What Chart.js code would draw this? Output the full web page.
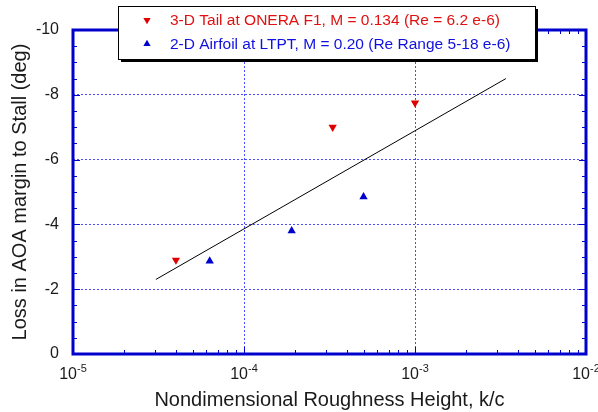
<!DOCTYPE html>
<html>
<head>
<meta charset="utf-8">
<script src="https://cdn.jsdelivr.net/npm/chart.js@4"></script>
<style>
  html, body { margin: 0; padding: 0; background: #fff; }
</style>
</head>
<body>
<canvas id="chart" width="598" height="412"></canvas>
<script>
// k/c vs loss in AOA margin
const tailK = [4.0e-5, 3.3e-4, 1.0e-3];
const tailLoss = [-2.9, -7.0, -7.75];
const airfoilK = [6.3e-5, 1.9e-4, 5.0e-4];
const airfoilLoss = [-2.87, -3.8, -4.85];
const fitK = [3.05e-5, 3.4e-3];
const fitLoss = [-2.3, -8.5];
const xExponents = [-5, -4, -3, -2];

const BLUE = '#0000cc';
const GRID = '#4a4aff';
const RED = '#e00000';
const FONT = "'Liberation Sans', Arial, sans-serif";

const pts = (xs, ys) => xs.map((v, i) => ({ x: v, y: ys[i] }));

const framePlugin = {
    id: 'frame',
    afterDraw(chart) {
        const { ctx, chartArea: a, scales: { x, y } } = chart;
        ctx.save();

        // minor / major ticks on all four sides
        ctx.strokeStyle = BLUE;
        ctx.lineWidth = 1;
        ctx.beginPath();
        for (let e = -5; e < -2; e++) {
            for (let m = 1; m < 10; m++) {
                const px = Math.round(x.getPixelForValue(m * Math.pow(10, e))) + 0.5;
                const len = m === 1 ? 7 : 4;
                ctx.moveTo(px, a.bottom); ctx.lineTo(px, a.bottom - len);
                ctx.moveTo(px, a.top); ctx.lineTo(px, a.top + len);
            }
        }
        for (let v = -10; v <= 0; v += 0.5) {
            const py = Math.round(y.getPixelForValue(v)) + 0.5;
            const len = v % 2 === 0 ? 7 : 4;
            ctx.moveTo(a.left, py); ctx.lineTo(a.left + len, py);
            ctx.moveTo(a.right, py); ctx.lineTo(a.right - len, py);
        }
        ctx.stroke();

        // thick plot frame
        ctx.lineWidth = 3;
        ctx.strokeRect(a.left, a.top, a.right - a.left, a.bottom - a.top);

        // x tick labels as 10^n
        ctx.fillStyle = '#1a1a1a';
        ctx.textBaseline = 'alphabetic';
        ctx.textAlign = 'left';
        xExponents.forEach(e => {
            const px = x.getPixelForValue(Math.pow(10, e));
            ctx.font = '16px ' + FONT;
            const wBase = ctx.measureText('10').width;
            ctx.font = '11px ' + FONT;
            const wExp = ctx.measureText(String(e)).width;
            const x0 = px - (wBase + wExp) / 2;
            ctx.font = '16px ' + FONT;
            ctx.fillText('10', x0, 379);
            ctx.font = '11px ' + FONT;
            ctx.fillText(String(e), x0 + wBase, 372);
        });

        // legend box with drop shadow
        const bx = 118, by = 6, bw = 417, bh = 53;
        ctx.fillStyle = '#000';
        ctx.fillRect(bx + 3, by + 3, bw, bh);
        ctx.fillStyle = '#fff';
        ctx.fillRect(bx, by, bw, bh);
        ctx.lineWidth = 1;
        ctx.strokeStyle = '#000';
        ctx.strokeRect(bx + 0.5, by + 0.5, bw, bh);

        ctx.font = '15.5px ' + FONT;
        ctx.textBaseline = 'middle';
        [0, 1].forEach(i => {
            const ds = chart.data.datasets[i];
            const ly = 20 + i * 24;
            ctx.fillStyle = ds.backgroundColor;
            Chart.helpers.drawPoint(ctx, {
                pointStyle: 'triangle', radius: 4.2,
                rotation: ds.pointRotation || 0, borderWidth: 0
            }, 147, ly);
            ctx.fillStyle = ds.textColor;
            ctx.fillText(ds.label, 170, ly + 1);
        });

        ctx.restore();
    }
};

new Chart(document.getElementById('chart'), {
    type: 'scatter',
    data: {
        datasets: [
            {
                label: '3-D Tail at ONERA F1, M = 0.134 (Re = 6.2 e-6)',
                data: pts(tailK, tailLoss),
                pointStyle: 'triangle',
                pointRotation: 180,
                pointRadius: 4.8,
                backgroundColor: RED,
                borderWidth: 0,
                textColor: '#e01010',
            },
            {
                label: '2-D Airfoil at LTPT, M = 0.20 (Re Range 5-18 e-6)',
                data: pts(airfoilK, airfoilLoss),
                pointStyle: 'triangle',
                pointRadius: 4.8,
                backgroundColor: BLUE,
                borderWidth: 0,
                textColor: '#1010e0',
            },
            {
                type: 'line',
                label: 'fit',
                data: pts(fitK, fitLoss),
                borderColor: '#000',
                borderWidth: 1,
                pointRadius: 0,
                fill: false,
            },
        ],
    },
    options: {
        responsive: false,
        animation: false,
        layout: { padding: { top: 30, right: 12, left: 0, bottom: 0 } },
        plugins: { legend: { display: false }, tooltip: { enabled: false } },
        scales: {
            x: {
                type: 'logarithmic',
                min: 1e-5,
                max: 1e-2,
                afterBuildTicks: s => { s.ticks = xExponents.map(e => ({ value: Math.pow(10, e) })); },
                afterFit: s => { s.height = 58; },
                grid: { color: GRID, lineWidth: 1, drawTicks: false },
                border: { display: false, dash: [2, 2] },
                ticks: { display: false },
                title: {
                    display: true,
                    text: 'Nondimensional Roughness Height, k/c',
                    color: '#1a1a1a',
                    font: { family: FONT, size: 20 },
                    padding: { bottom: 0 },
                },
            },
            y: {
                min: -10,
                max: 0,
                reverse: true,
                afterFit: s => { s.width = 73; },
                grid: { color: GRID, lineWidth: 1, drawTicks: false },
                border: { display: false, dash: [2, 2] },
                ticks: {
                    stepSize: 2,
                    padding: 14,
                    color: '#1a1a1a',
                    font: { family: FONT, size: 16 },
                },
                title: {
                    display: true,
                    text: 'Loss in AOA margin to Stall (deg)',
                    color: '#1a1a1a',
                    font: { family: FONT, size: 20 },
                    padding: { top: 8 },
                },
            },
        },
    },
    plugins: [framePlugin],
});
</script>
</body>
</html>
